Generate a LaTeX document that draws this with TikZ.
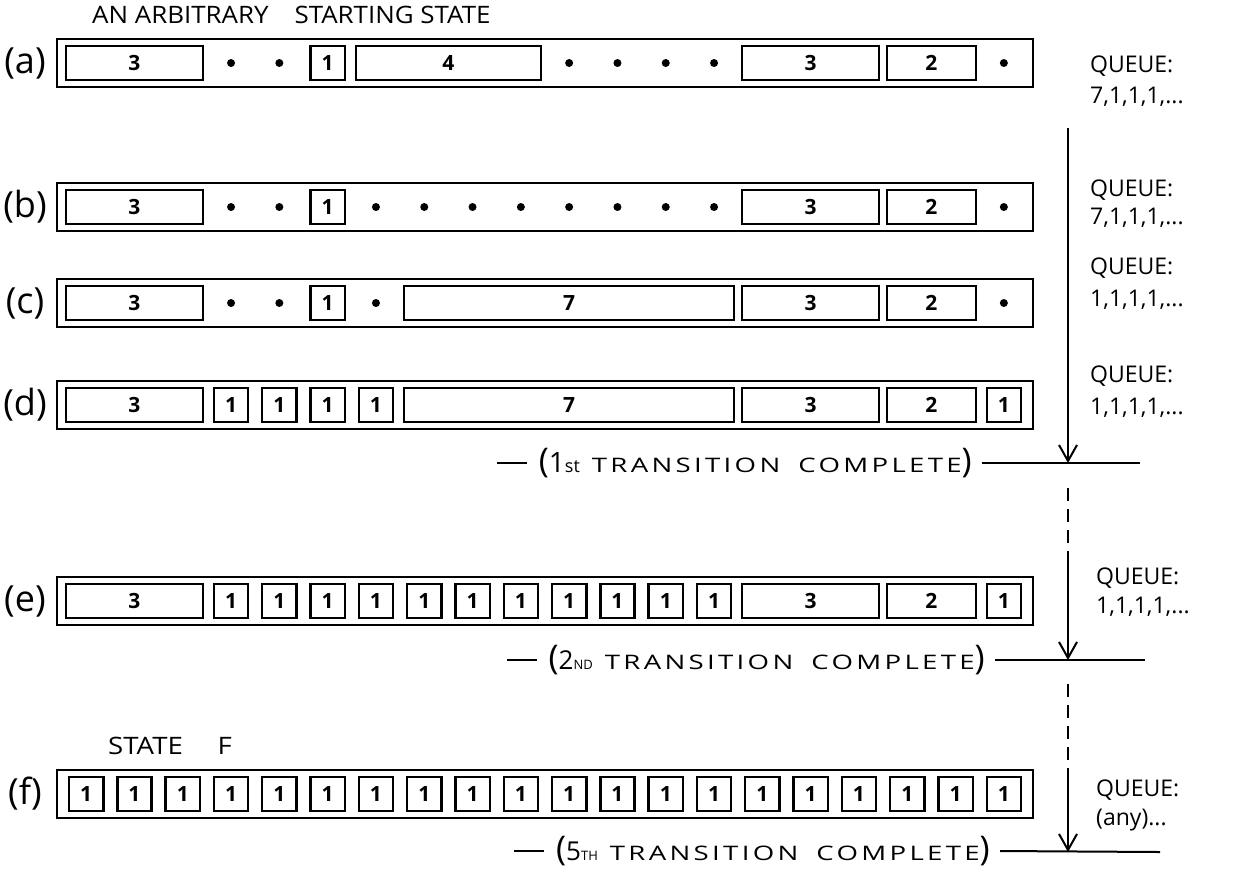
\documentclass[tikz,border=0pt]{standalone}
\usepackage{fontspec}
\usepackage{graphicx}
\setmainfont{Open Sans}
\newfontfamily\handw{Open Sans}[LetterSpace=12]
\usetikzlibrary{arrows.meta}
\newcommand\cellb[5]{%
  \pgfmathsetmacro\cw{48.3*#4-((#4==1)?14:8)}%
  \pgfmathsetmacro\cxx{62+48.3*(#3+#4/2)}%
  \node[cellbox, minimum width=\cw pt] (#1) at (\cxx,#2) {#5};}
\newcommand\celld[3]{%
  \pgfmathsetmacro\cxx{62+48.3*(#3+0.5)}%
  \node[dotnode] (#1) at (\cxx,#2) {};}
\newcommand\bigp[1]{{\fontsize{34}{34}\selectfont #1}}
\newcommand\trword[1]{\scalebox{1.38}[1]{\handw\fontsize{20}{20}\selectfont #1}}
\newcommand\trdash{\rule[8pt]{30pt}{2pt}\hspace{12pt}}
\begin{document}
\begin{tikzpicture}[x=1pt,y=-1pt,
  barbox/.style={draw, line width=2.8pt, minimum height=48pt, minimum width=976pt, inner sep=0pt},
  cellbox/.style={draw, line width=2.4pt, minimum height=34pt, inner sep=0pt, font=\fontsize{21}{21}\selectfont\bfseries},
  dotnode/.style={circle, fill, inner sep=0pt, minimum size=8pt},
  rowlabel/.style={font=\fontsize{36}{36}\selectfont},
  qtext/.style={anchor=west, inner sep=0pt, font=\fontsize{23}{23}\selectfont},
  ttext/.style={anchor=east, inner sep=0pt},
  headtext/.style={anchor=west, inner sep=0pt, font=\fontsize{24}{24}\selectfont},
  flow/.style={line width=2pt},
  tip/.style={-{Straight Barb[length=16pt,width=18pt,line width=2pt]}},
  dashedflow/.style={line width=2pt, dash pattern=on 13pt off 8pt}
]
\useasboundingbox (0,0) rectangle (1241,871);

% title
\node[headtext] (title) at (92,15) {\scalebox{1.08}[1]{AN ARBITRARY\quad STARTING STATE}};

% ---------- row (a)
\node[rowlabel] (la) at (25,63) {(a)};
\node[barbox] (bara) at (545,63) {};
\cellb{a3}{63}{0}{3}{3}
\celld{ad3}{63}{3}\celld{ad4}{63}{4}
\cellb{a1}{63}{5}{1}{1}
\cellb{a4}{63}{6}{4}{4}
\foreach \i in {10,...,13} {\celld{ad\i}{63}{\i}}
\cellb{a3r}{63}{14}{3}{3}
\cellb{a2}{63}{17}{2}{2}
\celld{ad19}{63}{19}
\node[qtext] (qa) at (1090,66) {QUEUE:};
\node[qtext] (va) at (1090,97) {7,1,1,1,...};

% ---------- row (b)
\node[rowlabel] (lb) at (25,207) {(b)};
\node[barbox] (barb) at (545,207) {};
\cellb{b3}{207}{0}{3}{3}
\celld{bd3}{207}{3}\celld{bd4}{207}{4}
\cellb{b1}{207}{5}{1}{1}
\foreach \i in {6,...,13} {\celld{bd\i}{207}{\i}}
\cellb{b3r}{207}{14}{3}{3}
\cellb{b2}{207}{17}{2}{2}
\celld{bd19}{207}{19}
\node[qtext] (qb) at (1090,190) {QUEUE:};
\node[qtext] (vb) at (1090,218) {7,1,1,1,...};

% ---------- row (c)
\node[rowlabel] (lc) at (25,303) {(c)};
\node[barbox] (barc) at (545,303) {};
\cellb{c3}{303}{0}{3}{3}
\celld{cd3}{303}{3}\celld{cd4}{303}{4}
\cellb{c1}{303}{5}{1}{1}
\celld{cd6}{303}{6}
\cellb{c7}{303}{7}{7}{7}
\cellb{c3r}{303}{14}{3}{3}
\cellb{c2}{303}{17}{2}{2}
\celld{cd19}{303}{19}
\node[qtext] (qc) at (1090,268) {QUEUE:};
\node[qtext] (vc) at (1090,300) {1,1,1,1,...};

% ---------- row (d)
\node[rowlabel] (ld) at (25,405) {(d)};
\node[barbox] (bard) at (545,405) {};
\cellb{d3}{405}{0}{3}{3}
\foreach \i in {3,...,6} {\cellb{d1-\i}{405}{\i}{1}{1}}
\cellb{d7}{405}{7}{7}{7}
\cellb{d3r}{405}{14}{3}{3}
\cellb{d2}{405}{17}{2}{2}
\cellb{d1r}{405}{19}{1}{1}
\node[qtext] (qd) at (1090,376) {QUEUE:};
\node[qtext] (vd) at (1090,408) {1,1,1,1,...};

% ---------- transition 1
\coordinate (a1s) at (1068,128);
\coordinate (j1) at (1068,463);
\coordinate (l1e) at (1140,463);
\node[ttext] (t1) at (972,463) {\trdash\bigp{(}{\fontsize{28}{28}\selectfont 1}{\fontsize{18}{18}\selectfont st}\hspace{12pt}\trword{TRANSITION}\hspace{18pt}\trword{COMPLETE}\bigp{)}};
\draw[flow] (t1.east) ++(10,0) -- (l1e);
\draw[flow,tip] (a1s) -- (j1);

% ---------- row (e)
\node[rowlabel] (le) at (25,601) {(e)};
\node[barbox] (bare) at (545,601) {};
\cellb{e3}{601}{0}{3}{3}
\foreach \i in {3,...,13} {\cellb{e1-\i}{601}{\i}{1}{1}}
\cellb{e3r}{601}{14}{3}{3}
\cellb{e2}{601}{17}{2}{2}
\cellb{e1r}{601}{19}{1}{1}
\node[qtext] (qe) at (1096,578) {QUEUE:};
\node[qtext] (ve) at (1096,607) {1,1,1,1,...};

% ---------- transition 2
\coordinate (a2s) at (1068,488);
\coordinate (a2m) at (1068,562);
\coordinate (j2) at (1068,660);
\coordinate (l2e) at (1145,660);
\node[ttext] (t2) at (985,660) {\trdash\bigp{(}{\fontsize{26}{26}\selectfont 2}{\fontsize{13}{13}\selectfont ND}\hspace{12pt}\trword{TRANSITION}\hspace{18pt}\trword{COMPLETE}\bigp{)}};
\draw[flow] (t2.east) ++(10,0) -- (l2e);
\draw[dashedflow] (a2s) -- (a2m);
\draw[flow,tip] (a2m) -- (j2);

% ---------- row (f)
\node[headtext] (statef) at (108,746) {\scalebox{1.15}[1]{STATE\quad\ F}};
\node[rowlabel] (lf) at (25,794) {(f)};
\node[barbox] (barf) at (545,794) {};
\foreach \i in {0,...,19} {\cellb{f1-\i}{794}{\i}{1}{1}}
\node[qtext] (qf) at (1096,790) {QUEUE:};
\node[qtext] (vf) at (1096,820) {(any)...};

% ---------- transition 3
\coordinate (a3s) at (1068,684);
\coordinate (a3m) at (1068,768);
\coordinate (j3) at (1068,852);
\coordinate (l3e) at (1160,852);
\node[ttext] (t3) at (990,851) {\trdash\bigp{(}{\fontsize{26}{26}\selectfont 5}{\fontsize{13}{13}\selectfont TH}\hspace{12pt}\trword{TRANSITION}\hspace{18pt}\trword{COMPLETE}\bigp{)}};
\draw[flow] (t3.east) ++(10,0) -- (l3e);
\draw[dashedflow] (a3s) -- (a3m);
\draw[flow,tip] (a3m) -- (j3);
\end{tikzpicture}
\end{document}
